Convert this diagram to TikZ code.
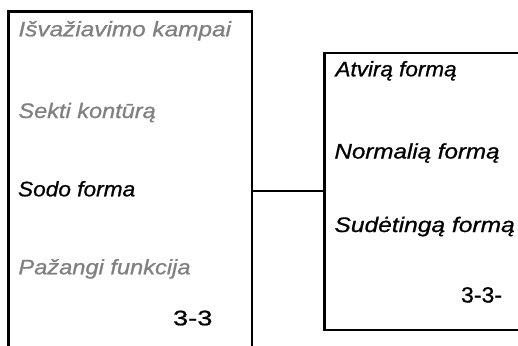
\documentclass[tikz,border=0pt]{standalone}
\usepackage{fontspec}
\setmainfont{Liberation Sans}[FakeBold=0.8]
\usepackage{graphicx}
\definecolor{txtgray}{RGB}{128,128,128}
\newcommand{\hs}[2][1.12]{\scalebox{#1}[1]{#2}}
\begin{document}
\begin{tikzpicture}[x=1pt,y=-1pt,
  box/.style={draw, line width=2.2pt, rectangle, inner sep=0pt, outer sep=0pt},
  lbl/.style={anchor=base west, inner sep=0pt, outer sep=0pt, font=\fontsize{21}{25}\selectfont\itshape},
  gr/.style={text=txtgray},
  num/.style={anchor=base west, inner sep=0pt, outer sep=0pt, font=\fontsize{21}{25}\selectfont},
  conn/.style={line width=1.9pt}]
\useasboundingbox (0,0) rectangle (518,345);
\clip (0,0) rectangle (518,345);
\node[box, anchor=north west, minimum width=243.5pt, minimum height=360pt] (left) at (8.5,11.5) {};
\node[box, anchor=north west, minimum width=250pt, minimum height=277pt] (right) at (324.5,53) {};
\coordinate (cy) at (0,190.7);
\draw[conn] (left.east |- cy) -- (right.west |- cy);
\node[lbl,gr] (t1) at (18.5,36.3) {\hs[1.16]{Išvažiavimo kampai}};
\node[lbl,gr] (t2) at (18.5,118) {\hs[1.12]{Sekti kontūrą}};
\node[lbl] (t3) at (18,196.3) {\hs[1.08]{Sodo forma}};
\node[lbl,gr] (t4) at (18.5,274.3) {\hs[1.125]{Pažangi funkcija}};
\node[num] (n1) at (173,325.3) {\hs[1.3]{3-3}};
\node[lbl] (r1) at (335.5,76.3) {\hs[1.07]{Atvirą formą}};
\node[lbl] (r2) at (334.5,158.5) {\hs[1.15]{Normalią formą}};
\node[lbl] (r3) at (334.5,232) {\hs[1.17]{Sudėtingą formą}};
\node[num, font=\fontsize{22}{26}\selectfont] (n2) at (461,302.5) {\hs[1.05]{3-3-}};
\end{tikzpicture}
\end{document}
